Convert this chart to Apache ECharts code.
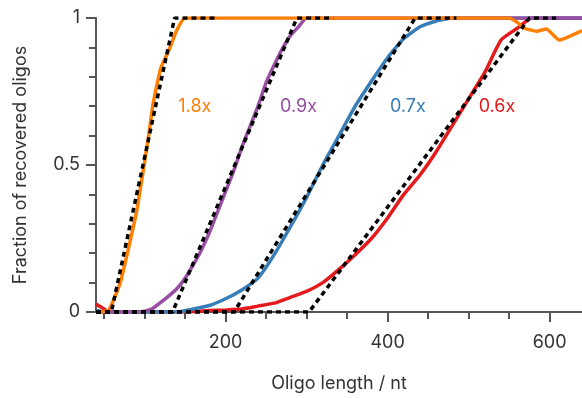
<!DOCTYPE html>
<html>
<head>
<meta charset="utf-8">
<script src="https://cdn.jsdelivr.net/npm/echarts@6/dist/echarts.min.js"></script>
<style>
  html, body { margin: 0; padding: 0; background: #fff; }
  #chart { width: 582px; height: 398px; }
</style>
</head>
<body>
<div id="chart"></div>
<script>
// measured curves, [oligo length, fraction]
const orangeData = [[40, 0.003], [45, 0], [55, 0.005], [60, 0.03], [70, 0.10], [80, 0.215], [90, 0.34], [100, 0.51], [105, 0.60], [110, 0.70], [115, 0.77], [120, 0.83], [130, 0.89], [140, 0.96], [150, 1], [550, 1], [560, 0.985], [568, 0.966], [584, 0.955], [596, 0.963], [612, 0.925], [640, 0.957]]
const purpleData = [[40, 0], [90, 0], [100, 0.003], [110, 0.012], [120, 0.033], [130, 0.055], [140, 0.08], [150, 0.115], [160, 0.16], [170, 0.21], [180, 0.27], [190, 0.34], [200, 0.41], [210, 0.48], [220, 0.56], [230, 0.63], [240, 0.70], [250, 0.78], [260, 0.84], [270, 0.895], [280, 0.94], [290, 0.97], [300, 1], [640, 1]]
const blueData = [[40, 0.006], [50, 0], [140, 0], [160, 0.01], [180, 0.022], [200, 0.045], [220, 0.075], [240, 0.115], [260, 0.195], [280, 0.29], [300, 0.39], [320, 0.50], [340, 0.60], [360, 0.70], [380, 0.785], [400, 0.865], [420, 0.93], [440, 0.97], [460, 0.99], [480, 1], [640, 1]]
const redData = [[40, 0.027], [50, 0.01], [55, 0], [150, 0], [180, 0.005], [200, 0.007], [220, 0.01], [240, 0.02], [260, 0.03], [280, 0.05], [300, 0.07], [320, 0.10], [340, 0.145], [360, 0.195], [380, 0.25], [400, 0.32], [420, 0.40], [440, 0.466], [460, 0.545], [480, 0.635], [500, 0.725], [520, 0.815], [540, 0.925], [560, 0.965], [578, 1], [640, 1]]

// clamped linear fits (dotted)
const orangeFit = [[40, 0], [59, 0], [137, 1], [187, 1]]
const purpleFit = [[40, 0], [134.5, 0], [288, 1], [333, 1]]
const blueFit = [[40, 0], [210.5, 0], [434, 1], [485, 1]]
const redFit = [[40, 0], [303, 0], [575, 1], [608, 1]]

const labelText = ['1.8x', '0.9x', '0.7x', '0.6x']
const labelX = [162, 290, 425, 535]
const labelY = [0.7, 0.7, 0.7, 0.7]

const xMajor = [200, 400, 600]
const xMinor = [50, 100, 150, 250, 300, 350, 450, 500, 550]

const colors = { orange: '#ff7f00', purple: '#984ea3', blue: '#377eb8', red: '#e41a1c' }
const font = 'Inter, "Noto Sans", sans-serif'
const axisColor = '#555'
const textColor = '#333'

const chart = echarts.init(document.getElementById('chart'))

function solid(name, data, color, idx) {
  return {
    name,
    type: 'line',
    data,
    showSymbol: false,
    smooth: 0.15,
    lineStyle: { color, width: 3.5 },
    itemStyle: { color },
    z: 2,
    markPoint: {
      symbol: 'circle',
      symbolSize: 0,
      data: [{ coord: [labelX[idx], labelY[idx]], value: labelText[idx] }],
      label: {
        show: true,
        position: 'inside',
        formatter: labelText[idx],
        color,
        fontSize: 18,
        fontFamily: font
      }
    }
  }
}

function fit(data) {
  return {
    type: 'line',
    data,
    showSymbol: false,
    lineStyle: { color: '#000', width: 3.5, type: [5, 4] },
    z: 5
  }
}

chart.setOption({
  animation: false,
  grid: { left: 96, right: 0, top: 18, bottom: 85, containLabel: false },
  xAxis: [{
    type: 'value',
    min: 40,
    max: 640,
    name: 'Oligo length / nt',
    nameLocation: 'middle',
    nameGap: 63,
    nameTextStyle: { fontSize: 18, color: textColor, fontFamily: font },
    axisLine: { show: true, lineStyle: { color: axisColor, width: 2 } },
    axisTick: { show: true, length: 10, customValues: xMajor, lineStyle: { color: axisColor, width: 2 } },
    axisLabel: { customValues: xMajor, fontSize: 18, color: textColor, fontFamily: font, margin: 22 },
    splitLine: { show: false }
  }, {
    type: 'value',
    position: 'bottom',
    min: 40,
    max: 640,
    axisLine: { show: false },
    axisTick: { show: true, length: 7, customValues: xMinor, lineStyle: { color: axisColor, width: 2 } },
    axisLabel: { show: false },
    splitLine: { show: false }
  }],
  yAxis: {
    type: 'value',
    min: 0,
    max: 1,
    interval: 0.5,
    name: 'Fraction of recovered oligos',
    nameLocation: 'middle',
    nameGap: 66,
    nameTextStyle: { fontSize: 18, color: textColor, fontFamily: font },
    axisLine: { show: true, lineStyle: { color: axisColor, width: 2 } },
    axisTick: { show: true, length: 10, lineStyle: { color: axisColor, width: 2 } },
    minorTick: { show: true, splitNumber: 5, length: 7, lineStyle: { color: axisColor, width: 2 } },
    axisLabel: { fontSize: 18, color: textColor, fontFamily: font, margin: 16 },
    splitLine: { show: false }
  },
  series: [
    solid('0.6x', redData, colors.red, 3),
    solid('0.7x', blueData, colors.blue, 2),
    solid('0.9x', purpleData, colors.purple, 1),
    solid('1.8x', orangeData, colors.orange, 0),
    fit(orangeFit),
    fit(purpleFit),
    fit(blueFit),
    fit(redFit)
  ]
})
</script>
</body>
</html>
